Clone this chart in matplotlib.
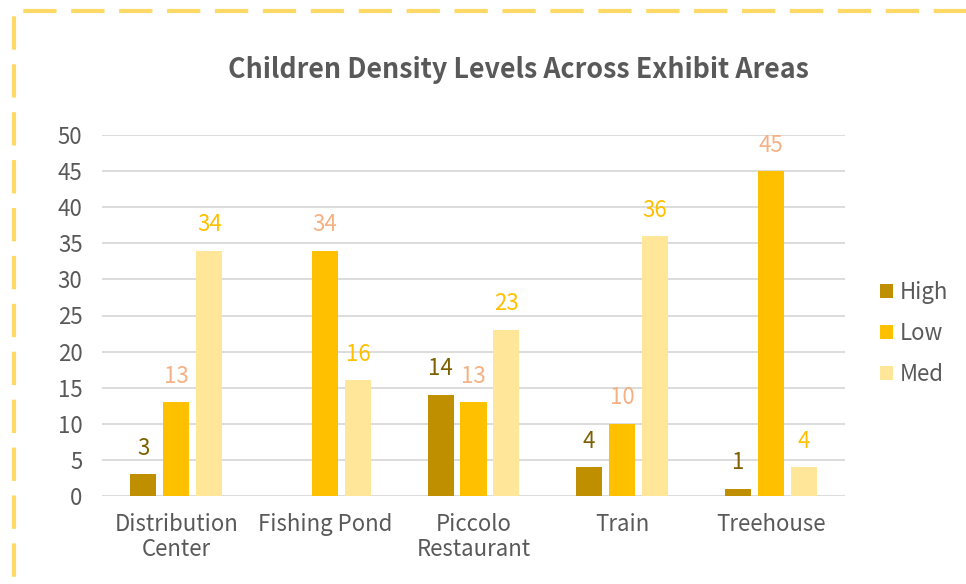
import matplotlib.pyplot as plt
import numpy as np
from matplotlib.patches import Rectangle

plt.rcParams['font.family'] = ['Noto Sans CJK SC', 'DejaVu Sans']

categories = ['Distribution\nCenter', 'Fishing Pond', 'Piccolo\nRestaurant', 'Train', 'Treehouse']
high = [3, 0, 14, 4, 1]
low = [13, 34, 13, 10, 45]
med = [34, 16, 23, 36, 4]

series = [('High', high, '#BF8F00', '#7F6000'),
          ('Low', low, '#FFC000', '#F4B183'),
          ('Med', med, '#FFE699', '#FFC000')]

fig = plt.figure(figsize=(9.66, 5.84), dpi=100)
ax = fig.add_axes([102 / 966, 1 - 496 / 584, 743 / 966, 361 / 584])

x = np.arange(len(categories))
width = 0.175
offsets = [-0.222, 0, 0.222]
for (name, vals, color, lcolor), off in zip(series, offsets):
    bars = ax.bar(x + off, vals, width, color=color, label=name, zorder=3)
    for b, v in zip(bars, vals):
        if v == 0:
            continue
        ax.text(b.get_x() + b.get_width() / 2, v + 2.0, str(v), ha='center', va='bottom',
                fontsize=16, color=lcolor)

ax.set_xlim(-0.5, len(categories) - 0.5)
ax.set_ylim(0, 50)
ax.set_yticks(range(0, 51, 5))
ax.set_xticks(x)
ax.set_xticklabels(categories, fontsize=16, color='#595959', linespacing=1.15)
ax.tick_params(axis='y', labelsize=16, labelcolor='#595959', length=0, pad=14)
ax.tick_params(axis='x', length=0, pad=12)
ax.grid(axis='y', color='#D9D9D9', linewidth=1.3, zorder=0)
for s in ax.spines.values():
    s.set_visible(False)

fig.text(518 / 966, 1 - 70 / 584, 'Children Density Levels Across Exhibit Areas',
         ha='center', va='center', fontsize=19.3, fontweight='bold', color='#595959')

ax.legend(loc='center left', bbox_to_anchor=(1.02, 0.45), frameon=False, fontsize=16,
          labelcolor='#595959', handlelength=0.6, handleheight=0.6, handletextpad=0.3,
          labelspacing=0.8)

fig.patches.append(Rectangle((14 / 966, -0.1), 1.1, 1 - 11 / 584 + 0.1, transform=fig.transFigure,
                             fill=False, edgecolor='#FFD966', linewidth=3,
                             linestyle=(0, (8, 3.5)), clip_on=False))

fig.savefig('out.png', dpi=100)
